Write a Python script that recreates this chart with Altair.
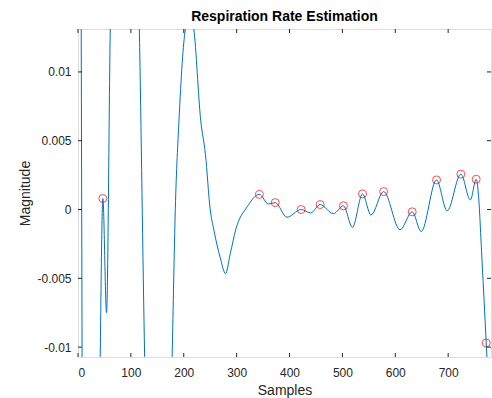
import altair as alt
import pandas as pd

# ---- data ----
sample_x = [0, 7, 14, 24, 42, 47, 54, 61, 88, 116, 126, 152, 178, 184, 191, 203, 212, 219,
            232, 241, 250, 257, 269, 279, 288, 298, 320, 343, 360, 373, 395, 422, 440, 458,
            483, 502, 519, 538, 554, 578, 609, 632, 649, 678, 698, 724, 742, 753, 757, 764,
            772, 781]
magnitude = [0.10, 0.0, -0.10, -0.12, -0.0107, 0.0008, -0.0075, 0.0131, 0.045, 0.0131,
             -0.0107, -0.045, -0.0107, 0.0, 0.0065, 0.0131, 0.0142, 0.0131,
             0.0065, 0.0040, 0.0, -0.0015, -0.0035, -0.00466, -0.0032, -0.0015, 0.0002,
             0.0011, 0.0004, 0.0005, -0.00056, 0.0, -0.00025, 0.00036,
             -0.0003, 0.00027, -0.0013, 0.00113, -0.0004, 0.0013, -0.00147, -0.00017,
             -0.0016, 0.00215, -0.0001, 0.00257, 0.0007, 0.0022, 0.0012, -0.0037,
             -0.0097, -0.0165]

peak_x = [47, 343, 373, 422, 458, 502, 538, 578, 632, 678, 724, 753, 772]
peak_y = [0.0008, 0.0011, 0.0005, 0.0, 0.00036, 0.00027, 0.00113, 0.0013, -0.00017,
          0.00215, 0.00257, 0.0022, -0.0097]

x_ticks = [0, 100, 200, 300, 400, 500, 600, 700]
y_ticks = [-0.01, -0.005, 0, 0.005, 0.01]

x_domain = [0, 781]
y_domain = [-0.01072, 0.01312]

W, H = 413, 328
TICK = 4
FONT = "Liberation Sans"
AXC = "#262626"

line_df = pd.DataFrame({"x": sample_x, "y": magnitude})
peak_df = pd.DataFrame({"x": peak_x, "y": peak_y})
xt_df = pd.DataFrame({"x": x_ticks})
yt_df = pd.DataFrame({"y": y_ticks})

xs = alt.Scale(domain=x_domain, nice=False, zero=False)
ys = alt.Scale(domain=y_domain, nice=False, zero=False)

x_axis = alt.Axis(
    values=x_ticks, title="Samples", labelFontSize=12, titleFontSize=14,
    labelPadding=10, titlePadding=5, ticks=False, domain=False, grid=False,
    labelFont=FONT, titleFont=FONT, labelColor=AXC, titleColor=AXC,
    titleFontWeight="normal")
y_axis = alt.Axis(
    values=y_ticks, title="Magnitude", labelFontSize=12, titleFontSize=14,
    labelPadding=7, titlePadding=4, ticks=False, domain=False, grid=False,
    labelFont=FONT, titleFont=FONT, labelColor=AXC, titleColor=AXC,
    titleFontWeight="normal",
    labelExpr="datum.value == 0 ? '0' : '' + datum.value")

X = alt.X("x:Q", scale=xs, axis=x_axis)
Y = alt.Y("y:Q", scale=ys, axis=y_axis)

line = alt.Chart(line_df).mark_line(
    color="#0072BD", strokeWidth=1, clip=True, interpolate="monotone"
).encode(x=X, y=Y)

peaks = alt.Chart(peak_df).mark_point(
    shape="circle", size=64, filled=False, color="#FF0000", strokeWidth=1, clip=True
).encode(x=X, y=Y)

xt_bottom = alt.Chart(xt_df).mark_rule(color=AXC, strokeWidth=1).encode(
    x=X, y=alt.value(H), y2=alt.value(H - TICK))
xt_top = alt.Chart(xt_df).mark_rule(color=AXC, strokeWidth=1).encode(
    x=X, y=alt.value(0), y2=alt.value(TICK))
yt_left = alt.Chart(yt_df).mark_rule(color=AXC, strokeWidth=1).encode(
    y=Y, x=alt.value(0), x2=alt.value(TICK))
yt_right = alt.Chart(yt_df).mark_rule(color=AXC, strokeWidth=1).encode(
    y=Y, x=alt.value(W), x2=alt.value(W - TICK))

chart = alt.layer(line, peaks, xt_bottom, xt_top, yt_left, yt_right).properties(
    width=W, height=H,
    title=alt.TitleParams("Respiration Rate Estimation", fontSize=14, fontWeight="bold",
                          font=FONT, color="#000000", offset=5, anchor="middle"),
    padding={"left": 78, "top": 29, "right": 1, "bottom": 41},
    autosize=alt.AutoSizeParams(type="none"),
).configure_view(stroke=AXC, strokeWidth=1).configure(background="white")

chart.save("out.html", embed_options={"renderer": "svg", "actions": False})
